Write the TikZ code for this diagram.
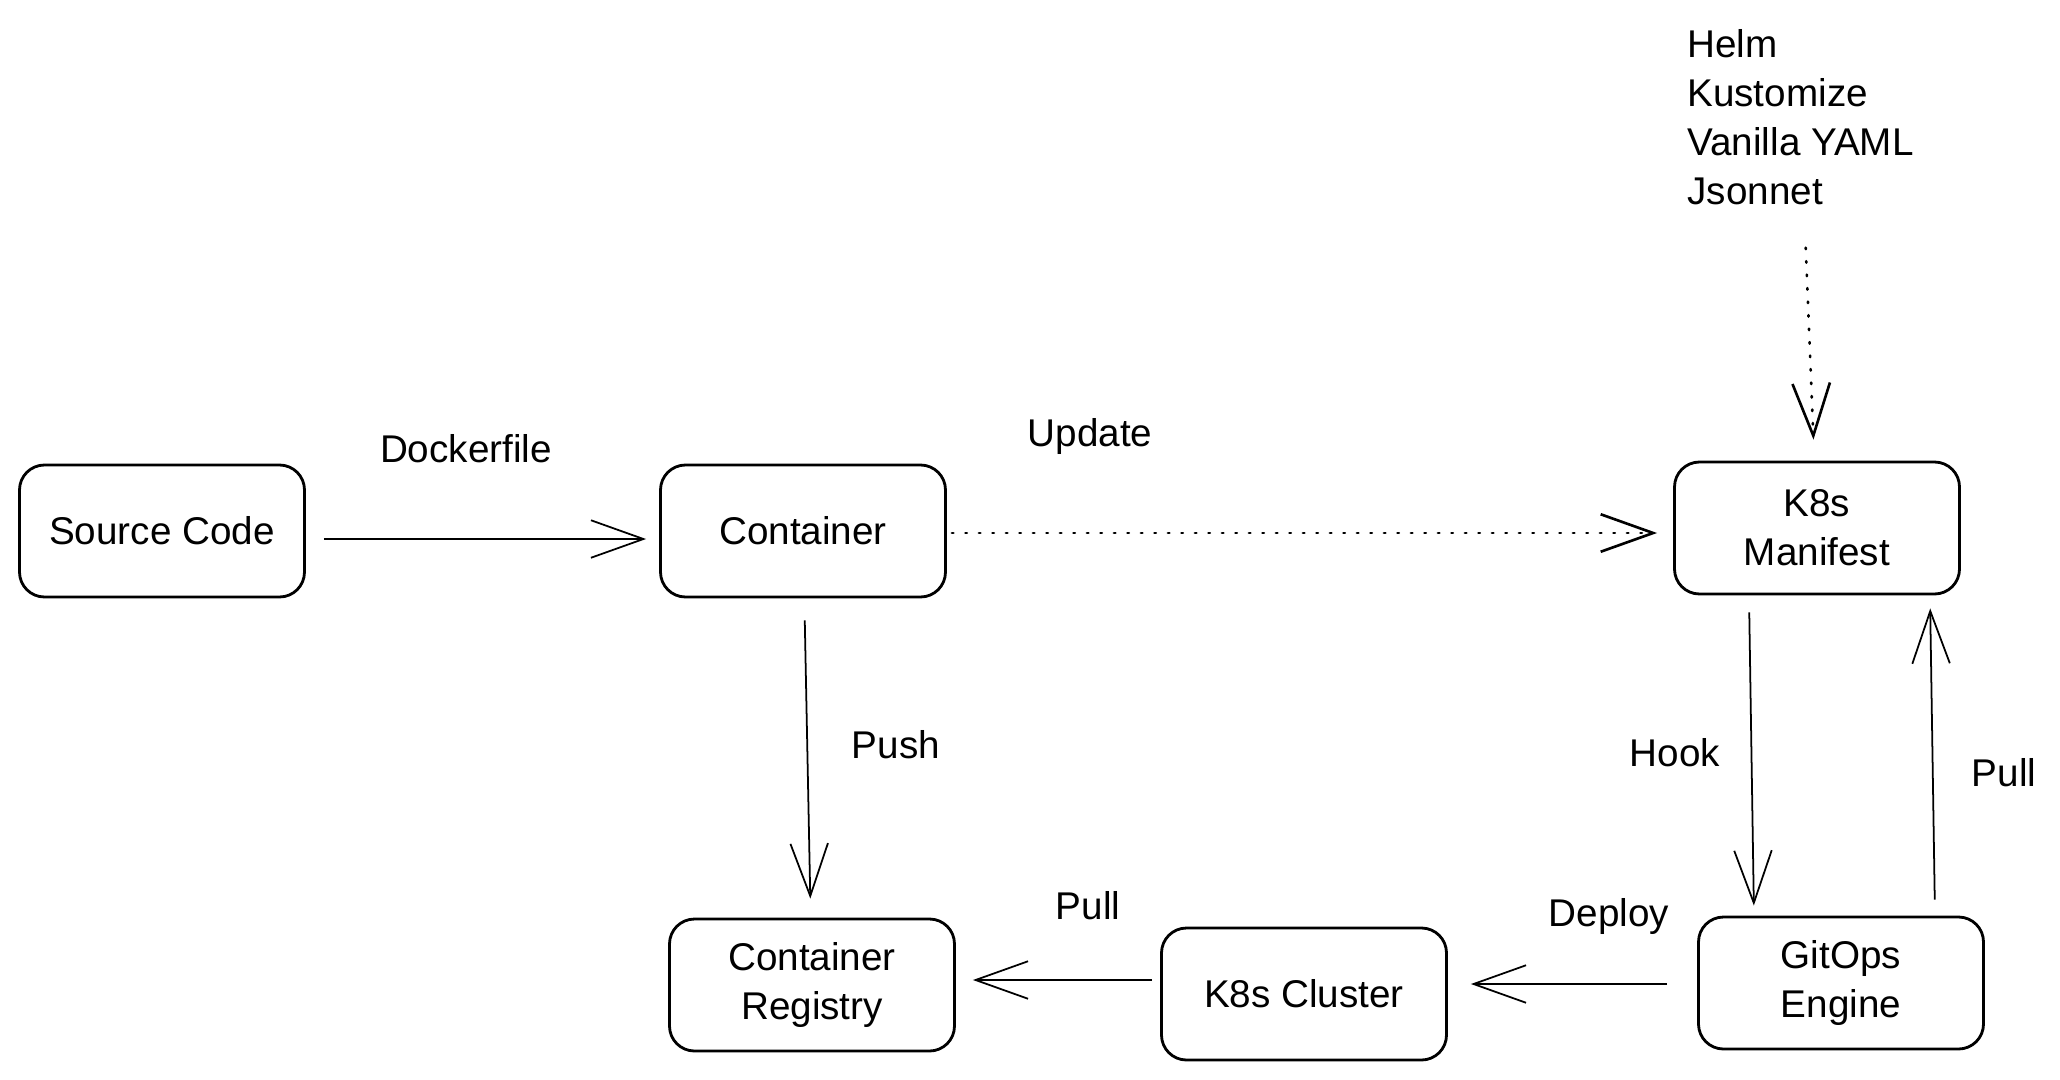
\documentclass[tikz,border=0pt]{standalone}
\usepackage{fontspec}
\setmainfont{Liberation Sans}
\usepackage{tikz}
\usetikzlibrary{calc,arrows.meta}
\tikzset{
  box/.style={draw,line width=1.6pt,rounded corners=5mm,minimum width=57mm,minimum height=26.4mm,align=center},
  arr/.style={line width=1pt,-{Straight Barb[length=10.5mm,width=7.5mm]}},
  dots/.style={arr,line width=1.5pt,dash pattern=on 0.3mm off 2.4mm,line cap=round},
  lbl/.style={inner sep=0pt},
}

\begin{document}
\begin{tikzpicture}[x=0.2mm,y=-0.2mm,font=\fontsize{22}{28}\selectfont]
			\useasboundingbox (0,0) rectangle (2060,1079);
			\node[box](src) at (162,531) {Source Code};
			\node[box](ctr) at (803,531) {Container};
			\node[box](man) at (1817,528) {K8s\\Manifest};
			\node[box](reg) at (812,985) {Container\\Registry};
			\node[box](clu) at (1304,994) {K8s Cluster};
			\node[box](git) at (1841,983) {GitOps\\Engine};
			\node[lbl,anchor=north west,align=left](tools) at (1687,29) {Helm\\Kustomize\\Vanilla YAML\\Jsonnet};
			
			\node[lbl](dock) at (466,449) {Dockerfile};
			\node[lbl](upd) at (1090,436) {Update};
			\node[lbl](push) at (896,745) {Push};
			\node[lbl](pullreg) at (1088,906) {Pull};
			\node[lbl](dep) at (1609,916) {Deploy};
			\node[lbl](hook) at (1675,753) {Hook};
			\node[lbl](pullman) at (2004,773) {Pull};
			
			\draw[arr,shorten <=3.6mm,shorten >=2.6mm] ($(src.east)+(0,8)$) -- ($(ctr.west)+(0,8)$);
			\draw[dots,shorten <=1mm,shorten >=3.2mm] ($(ctr.east)+(0,2)$) -- ($(man.west)+(0,5)$);
			\draw[arr,shorten <=4.4mm,shorten >=3.8mm] (ctr) -- (reg);
			\draw[arr,shorten <=1.6mm,shorten >=3.4mm] ($(clu.west)+(0,-14)$) -- ($(reg.east)+(0,-5)$);
			\draw[arr,shorten <=6mm,shorten >=4.6mm] ($(git.west)+(0,1)$) -- ($(clu.east)+(0,-10)$);
			\draw[arr,shorten <=3.4mm,shorten >=2mm] ($(man.south)+(-68,0)$) -- ($(git.north)+(-87,0)$);
			\draw[arr,shorten <=3.2mm,shorten >=2.6mm] ($(git.north)+(94,0)$) -- ($(man.south)+(113,0)$);
			\draw[dots,shorten <=8.4mm,shorten >=4.2mm] (tools) -- (man);
		\end{tikzpicture}
\end{document}
